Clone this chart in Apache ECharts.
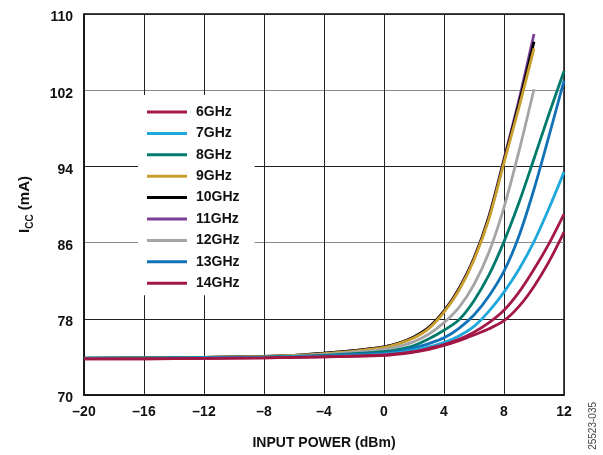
<!DOCTYPE html>
<html>
<head>
<meta charset="utf-8">
<script src="https://cdn.jsdelivr.net/npm/echarts@6/dist/echarts.min.js"></script>
<style>
html, body { margin: 0; padding: 0; background: #fff; }
#chart { width: 603px; height: 455px; }
</style>
</head>
<body>
<div id="chart"></div>
<script>
// input power (dBm) sample points
var inputPower = [-20, -16, -12, -8, -6, -4, -2, 0, 1, 2, 3, 4, 5, 6, 7, 8, 9, 10, 11, 12];

// Icc (mA) per frequency
var icc6GHz  = [73.8, 73.8, 73.85, 73.9, 73.95, 74.0, 74.1, 74.2, 74.35, 74.55, 74.9, 75.3, 75.85, 76.6, 77.6, 78.9, 80.8, 83.2, 85.9, 89.0];
var icc7GHz  = [73.85, 73.85, 73.9, 73.95, 74.0, 74.05, 74.15, 74.3, 74.45, 74.7, 75.05, 75.5, 76.2, 77.2, 78.8, 80.8, 83.2, 86.1, 89.6, 93.4];
var icc8GHz  = [73.9, 73.9, 73.95, 74.0, 74.05, 74.15, 74.35, 74.55, 74.8, 75.2, 75.9, 76.8, 77.9, 79.9, 82.6, 86.1, 90.2, 94.8, 99.5, 104.0];
var icc9GHz  = [73.85, 73.9, 73.95, 74.05, 74.15, 74.35, 74.6, 75.0, 75.4, 76.0, 77.0, 78.7, 81.0, 84.2, 88.5, 94.4, 100.2, 106.4];
var icc10GHz = [73.85, 73.9, 73.95, 74.05, 74.15, 74.4, 74.65, 75.05, 75.45, 76.1, 77.1, 78.8, 81.1, 84.3, 88.7, 94.6, 100.6, 107.1];
var icc11GHz = [73.85, 73.9, 73.95, 74.05, 74.15, 74.4, 74.65, 75.05, 75.45, 76.1, 77.1, 78.8, 81.2, 84.4, 88.8, 94.8, 101.0, 107.9];
var icc12GHz = [73.85, 73.9, 73.95, 74.0, 74.1, 74.25, 74.5, 74.8, 75.1, 75.6, 76.4, 77.6, 79.2, 81.6, 85.0, 89.7, 95.6, 102.1];
var icc13GHz = [73.85, 73.85, 73.9, 73.95, 74.0, 74.1, 74.25, 74.4, 74.6, 74.95, 75.4, 76.0, 77.0, 78.4, 80.4, 83.0, 86.7, 91.6, 97.2, 103.0];
var icc14GHz = [73.8, 73.8, 73.85, 73.9, 73.95, 74.0, 74.05, 74.15, 74.3, 74.5, 74.8, 75.2, 75.7, 76.3, 76.95, 77.8, 79.3, 81.4, 84.0, 87.1];

var xTicks = { min: -20, max: 12, step: 4 };
var yTicks = { min: 70, max: 110, step: 8 };

var legendNames = ['6GHz', '7GHz', '8GHz', '9GHz', '10GHz', '11GHz', '12GHz', '13GHz', '14GHz'];

function pairs(vals) {
    return vals.map(function (v, i) { return [inputPower[i], v]; });
}

function mkLine(name, vals, color) {
    return {
        name: name,
        type: 'line',
        data: pairs(vals),
        showSymbol: false,
        smooth: 0.3,
        lineStyle: { color: color, width: 2.8 },
        itemStyle: { color: color }
    };
}

var chart = echarts.init(document.getElementById('chart'), null, { renderer: 'canvas' });

var option = {
    backgroundColor: '#fff',
    animation: false,
    textStyle: { fontFamily: 'Liberation Sans, Arial, sans-serif' },
    grid: {
        left: 84, right: 39, top: 14, bottom: 58,
        show: true, borderColor: '#111', borderWidth: 1.5
    },
    legend: {
        data: legendNames,
        orient: 'vertical',
        left: 138, top: 95,
        backgroundColor: '#fff',
        padding: [9, 15, 4, 9],
        itemWidth: 40, itemHeight: 3,
        itemGap: 5.4,
        icon: 'rect',
        textStyle: { fontSize: 14, fontWeight: 'bold', color: '#111', lineHeight: 16, padding: [0, 0, 0, 4] }
    },
    xAxis: {
        type: 'value',
        min: xTicks.min, max: xTicks.max, interval: xTicks.step,
        name: 'INPUT POWER (dBm)',
        nameLocation: 'middle', nameGap: 41,
        nameTextStyle: { fontSize: 14, fontWeight: 'bold', color: '#111' },
        axisLine: { onZero: false, lineStyle: { color: '#111', width: 1.5 } },
        axisTick: { show: false },
        axisLabel: {
            fontSize: 14, fontWeight: 'bold', color: '#111', margin: 10,
            formatter: function (v) { return v < 0 ? '\u2013' + (-v) : String(v); }
        },
        splitLine: { lineStyle: { color: '#222', width: 1 } }
    },
    yAxis: {
        type: 'value',
        min: yTicks.min, max: yTicks.max, interval: yTicks.step,
        name: '{i|I}{s|CC}{n| (mA)}',
        nameLocation: 'middle', nameGap: 52, nameRotate: 90,
        nameTextStyle: {
            rich: {
                i: { fontSize: 15, fontWeight: 'bold', color: '#111', lineHeight: 20, verticalAlign: 'bottom' },
                s: { fontSize: 10, fontWeight: 'bold', color: '#111', lineHeight: 20, verticalAlign: 'bottom', padding: [0, 0, -3, 0] },
                n: { fontSize: 15, fontWeight: 'bold', color: '#111', lineHeight: 20, verticalAlign: 'bottom' }
            }
        },
        axisLine: { onZero: false, lineStyle: { color: '#111', width: 1.5 } },
        axisTick: { show: false },
        axisLabel: {
            margin: 11,
            formatter: function (v) { return '{t|' + v + '}'; },
            rich: { t: { fontSize: 14, fontWeight: 'bold', color: '#111', padding: [7, 0, 0, 0] } }
        },
        splitLine: { lineStyle: { color: ['#222', '#222', '#8a8a8a', '#222', '#8a8a8a', '#222'], width: 1 } }
    },
    graphic: [{
        type: 'text',
        left: 588, top: 402,
        rotation: Math.PI / 2,
        style: { text: '25523-035', fontSize: 10, fill: '#444', fontFamily: 'Liberation Sans, Arial, sans-serif' }
    }],
    series: [
        mkLine('11GHz', icc11GHz, '#7B3F98'),
        mkLine('10GHz', icc10GHz, '#000000'),
        mkLine('9GHz', icc9GHz, '#C9A030'),
        mkLine('12GHz', icc12GHz, '#A5A5A5'),
        mkLine('8GHz', icc8GHz, '#007A6C'),
        mkLine('13GHz', icc13GHz, '#1272B8'),
        mkLine('7GHz', icc7GHz, '#1FA8DC'),
        mkLine('6GHz', icc6GHz, '#A5184A'),
        mkLine('14GHz', icc14GHz, '#A11642')
    ]
};

chart.setOption(option);
window.addEventListener('resize', function () {
    chart.resize();
});
</script>
</body>
</html>
